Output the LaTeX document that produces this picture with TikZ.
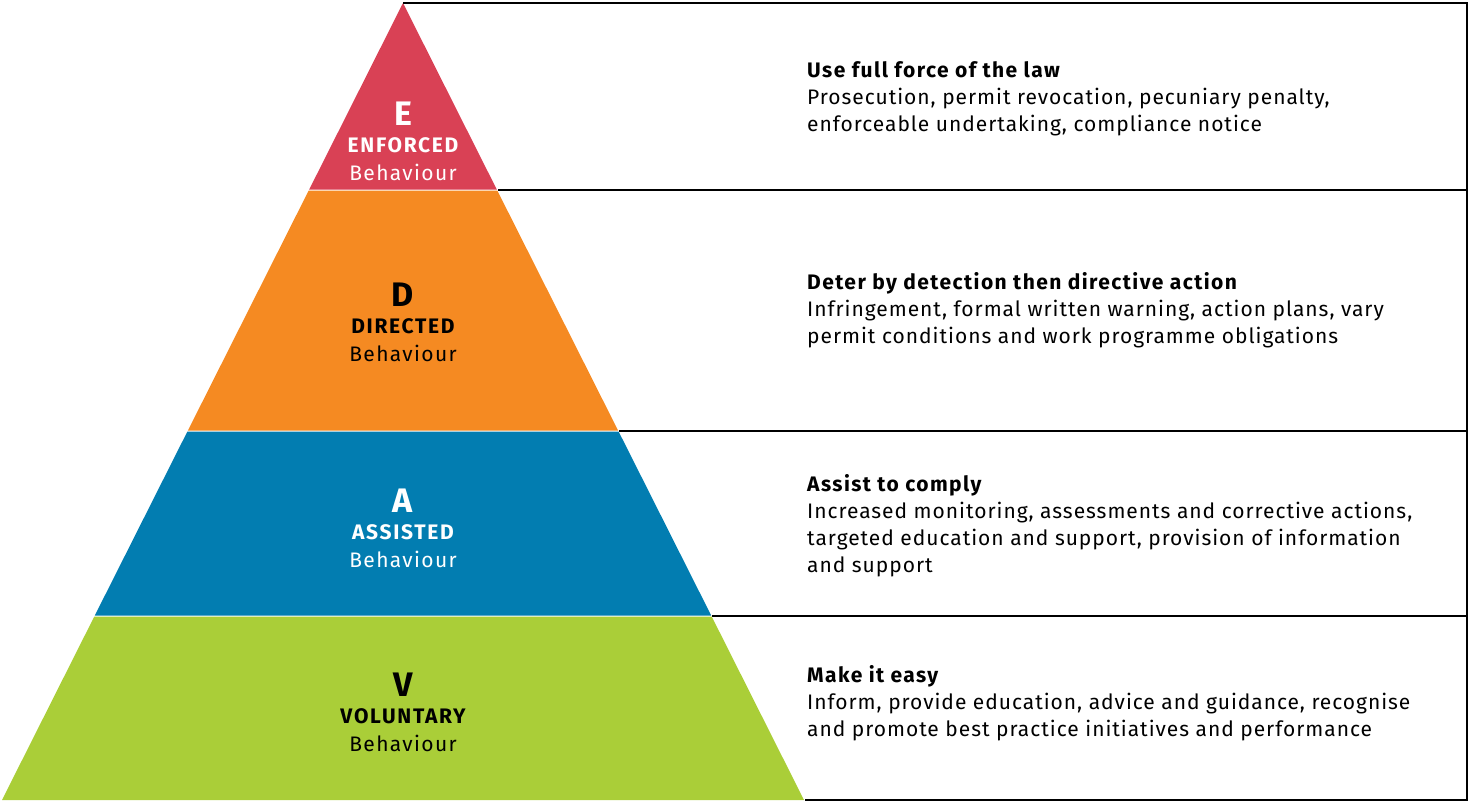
\documentclass[tikz,border=0pt]{standalone}
\usepackage{fontspec}
\setmainfont{Fira Sans}[LetterSpace=4.6, BoldFeatures={LetterSpace=6.8}]
\newfontfamily\labfont{Fira Sans}[LetterSpace=6.5, BoldFeatures={LetterSpace=8}]
\definecolor{cE}{RGB}{217,65,85}
\definecolor{cD}{RGB}{245,138,34}
\definecolor{cA}{RGB}{2,125,177}
\definecolor{cV}{RGB}{170,206,56}
\tikzset{
  frame/.style={line width=2pt, black},
  letter/.style={font=\fontsize{34}{34}\selectfont\bfseries, anchor=base},
  level/.style={font=\labfont\fontsize{21}{21}\selectfont\bfseries, anchor=base},
  beh/.style={font=\labfont\fontsize{21}{21}\selectfont, anchor=base},
  desc/.style={font=\fontsize{21}{27}\selectfont, anchor=north west, align=left, inner sep=0pt},
}
\begin{document}
\begin{tikzpicture}[x=1pt,y=-1pt]
\useasboundingbox (0,0) rectangle (1470,807);
% bands
\fill[cE] (403,3) -- (496.8,189.5) -- (309.2,189.5) -- cycle;
\fill[cD] (308.7,190.5) -- (497.3,190.5) -- (618.1,430.5) -- (187.9,430.5) -- cycle;
\fill[cA] (187.4,431.5) -- (618.6,431.5) -- (711.2,615.5) -- (94.8,615.5) -- cycle;
\fill[cV] (94.3,616.5) -- (711.7,616.5) -- (804,800) -- (2,800) -- cycle;
% frame lines
\coordinate (apex) at (403,3);
\coordinate (tr) at (1467,3);
\coordinate (br) at (1467,800);
\coordinate (bl) at (805,800);
\coordinate (d1) at (498,190);
\coordinate (d1r) at (1467,190);
\coordinate (d2) at (619,431);
\coordinate (d2r) at (1467,431);
\coordinate (d3) at (712,616);
\coordinate (d3r) at (1467,616);
\draw[frame] (apex) -- (tr) -- (br) -- (bl);
\draw[frame] (d1) -- (d1r);
\draw[frame] (d2) -- (d2r);
\draw[frame] (d3) -- (d3r);
% pyramid labels
\node[letter, white] (lE) at (403,125) {E};
\node[level, white] (nE) at (403,152) {ENFORCED};
\node[beh, white] (bE) at (403,180) {Behaviour};
\node[letter] (lD) at (403,306) {D};
\node[level] (nD) at (403,333) {DIRECTED};
\node[beh] (bD) at (403,361) {Behaviour};
\node[letter, white] (lA) at (403,512) {A};
\node[level, white] (nA) at (403,539) {ASSISTED};
\node[beh, white] (bA) at (403,567) {Behaviour};
\node[letter] (lV) at (403,696) {V};
\node[level] (nV) at (403,723) {VOLUNTARY};
\node[beh] (bV) at (403,751) {Behaviour};
% descriptions
\node[desc] (tE) at (807,61) {\textbf{Use full force of the law}\\Prosecution, permit revocation, pecuniary penalty,\\enforceable undertaking, compliance notice};
\node[desc] (tD) at (807,272) {\textbf{Deter by detection then directive action}\\Infringement, formal written warning, action plans, vary\\permit conditions and work programme obligations};
\node[desc] (tA) at (807,474.5) {\textbf{Assist to comply}\\Increased monitoring, assessments and corrective actions,\\targeted education and support, provision of information\\and support};
\node[desc] (tV) at (807,665.5) {\textbf{Make it easy}\\Inform, provide education, advice and guidance, recognise\\and promote best practice initiatives and performance};
\end{tikzpicture}
\end{document}
